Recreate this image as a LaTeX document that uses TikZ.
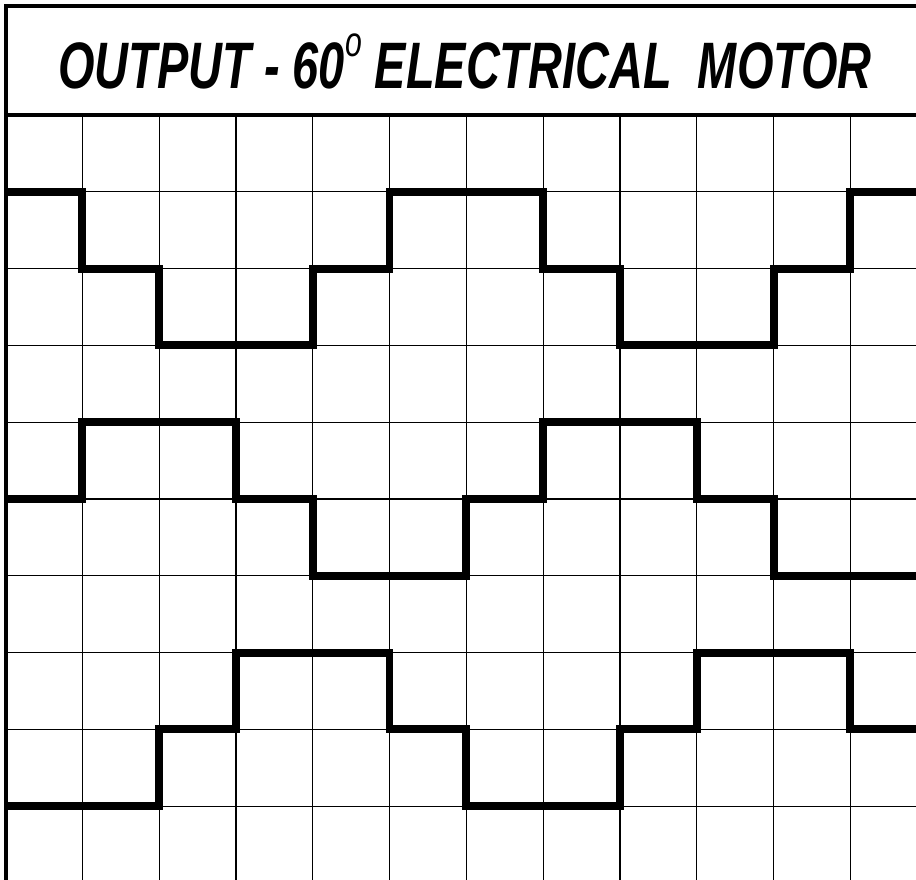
\documentclass[tikz,border=0pt]{standalone}
\usepackage{fontspec}
\newfontfamily\titlefont{Liberation Sans}

\begin{document}
\begin{tikzpicture}[scale=1.5,
    gridline/.style={line width=0.7pt},
    frame/.style={line width=2.2pt},
    wave/.style={line width=4.4pt}]
  \useasboundingbox (-0.072,-9.961) rectangle (11.855,1.497);
  % chart grid
  \draw[gridline] (0,-9.961) grid (11.855,0);
  \draw[frame] (0,-9.961) -- (0,1.413) -- (11.855,1.413);
  \draw[frame] (0,0) -- (11.855,0);
  % three phase outputs
  \draw[wave] (0,-1) -| (1,-2) -| (2,-3) -| (4,-2) -| (5,-1) -| (7,-2) -| (8,-3) -| (10,-2) -| (11,-1) -- (11.855,-1);
  \draw[wave] (0,-5) -| (1,-4) -| (3,-5) -| (4,-6) -| (6,-5) -| (7,-4) -| (9,-5) -| (10,-6) -- (11.855,-6);
  \draw[wave] (0,-9) -| (2,-8) -| (3,-7) -| (5,-8) -| (6,-9) -| (8,-8) -| (9,-7) -| (11,-8) -- (11.855,-8);
  \node[anchor=base, inner sep=0pt] (title) at (5.983,0.339)
    {\resizebox{452pt}{\height}{\titlefont\bfseries\itshape\fontsize{36.5}{40}\selectfont
     OUTPUT - 60\raisebox{18.3pt}{\mdseries\fontsize{23.5}{24}\selectfont o} ELECTRICAL\ \ MOTOR}};
\end{tikzpicture}
\end{document}
